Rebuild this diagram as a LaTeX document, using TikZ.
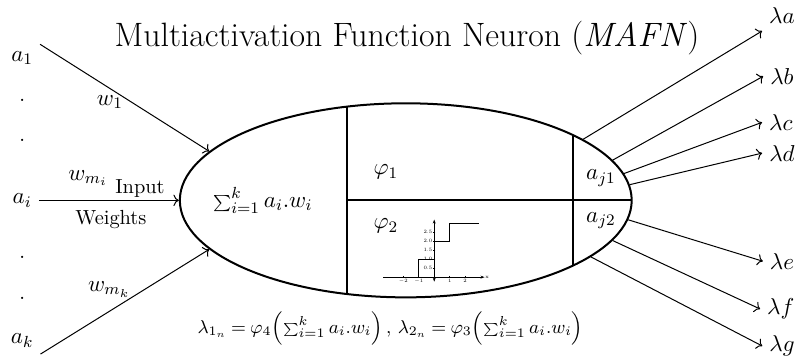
\documentclass[tikz,border=0pt]{standalone}
\usepackage{fix-cm}
\usepackage{amsmath, amssymb}
\usepackage{fontspec}
\usepackage{tikz}
\usetikzlibrary{arrows.meta, positioning, calc, shapes}

\newcommand{\smallsum}{\mathop{\scriptstyle\sum}\nolimits}

\begin{document}
\begin{tikzpicture}[
    every node/.style={font=\fontsize{11.5}{13}\selectfont},
    plain/.style={font=\fontsize{10.2}{12}\selectfont},
    edge/.style={->, line width=0.5pt},
    divider/.style={line width=1pt},
    ticklbl/.style={font=\tiny, scale=0.5, inner sep=0.6pt}
]
    \useasboundingbox (0,0) rectangle (14.11,6.31);

    \node[font=\fontsize{16.9}{20}\selectfont] (title) at (7.15,5.64) {Multiactivation Function Neuron (\textit{MAFN})};

    % neuron body
    \node[draw, ellipse, line width=1pt, minimum width=7.94cm, minimum height=3.41cm, inner sep=0pt] (neuron) at (7.13,2.79) {};
    \begin{scope}
        \clip (7.13,2.79) ellipse (3.97 and 1.705);
        \draw[divider] (6.10,0) -- (6.10,6);
        \draw[divider] (10.06,0) -- (10.06,6);
        \draw[divider] (6.10,2.79) -- (12,2.79);
    \end{scope}

    \node (sum) at (4.62,2.79) {$\smallsum_{i=1}^{k}a_i.w_i$};
    \node (phi1) at (6.78,3.29) {$\varphi_1$};
    \node (phi2) at (6.78,2.34) {$\varphi_2$};
    \node (aj1) at (10.56,3.18) {$a_{j1}$};
    \node (aj2) at (10.56,2.43) {$a_{j2}$};

    % inputs
    \node (a1) at (0.39,5.29) {$a_1$};
    \node[anchor=base] (d1) at (0.39,4.53) {.};
    \node[anchor=base] (d2) at (0.39,3.83) {.};
    \node (ai) at (0.39,2.79) {$a_i$};
    \node[anchor=base] (d3) at (0.39,1.76) {.};
    \node[anchor=base] (d4) at (0.39,1.05) {.};
    \node (ak) at (0.39,0.33) {$a_k$};

    \draw[edge] (a1.north east) -- (neuron.166);
    \draw[edge] (ai.east) -- (neuron.180);
    \draw[edge] (ak.south east) -- (neuron.194);

    \node (w1) at (1.93,4.52) {$w_1$};
    \node (wmi) at (1.55,3.18) {$w_{m_i}$};
    \node[plain] (input) at (2.46,2.99) {Input};
    \node[plain] (weights) at (1.95,2.46) {Weights};
    \node (wmk) at (1.92,1.23) {$w_{m_k}$};

    % outputs
    \node (la) at (13.74,6.03) {$\lambda a$};
    \node (lb) at (13.74,4.97) {$\lambda b$};
    \node (lc) at (13.72,4.16) {$\lambda c$};
    \node (ld) at (13.74,3.62) {$\lambda d$};
    \node (le) at (13.74,1.72) {$\lambda e$};
    \node (lf) at (13.72,0.88) {$\lambda f$};
    \node (lg) at (13.74,0.23) {$\lambda g$};

    \draw[edge] (neuron.19) -- (la.south west);
    \draw[edge] (neuron.11.5) -- (lb.west);
    \draw[edge] (neuron.7) -- (lc.west);
    \draw[edge] (neuron.4.3) -- (ld.west);
    \draw[edge] (neuron.-5.4) -- (le.west);
    \draw[edge] (neuron.-11) -- (lf.west);
    \draw[edge] (neuron.-17) -- (lg.west);

    \node[font=\fontsize{9.3}{12}\selectfont] (formula) at (6.86,0.53) {\thickmuskip=4mu $\lambda_{1_n}=\varphi_4\Bigl(\smallsum_{i=1}^{k}a_i.w_i\Bigr)\,,\,\lambda_{2_n}=\varphi_3\Bigl(\smallsum_{i=1}^{k}a_i.w_i\Bigr)$};

    % step plot of phi_2
    \begin{scope}[shift={(7.63,1.44)}, x=0.272cm, y=0.316cm, line width=0.4pt]
        \draw[-{Stealth[length=2pt]}] (-3.3,0) -- (3.25,0) node[right, ticklbl] {x};
        \draw[{Stealth[length=2pt]}-{Stealth[length=2pt]}] (0,-0.25) -- (0,3.2);
        \foreach \x in {-2,-1,1,2}
            \draw (\x,0.07) -- (\x,-0.07) node[below, ticklbl] {$\x$};
        \foreach \y in {0.5,1.0,1.5,2.0,2.5}
            \draw (0.07,\y) -- (-0.07,\y) node[left, ticklbl] {\y};
        \draw[line width=0.6pt] (-1,0) -- (-1,1) -- (0,1);
        \draw[line width=0.6pt] (0,2) -- (1,2) -- (1,3) -- (2.9,3);
    \end{scope}
\end{tikzpicture}
\end{document}
